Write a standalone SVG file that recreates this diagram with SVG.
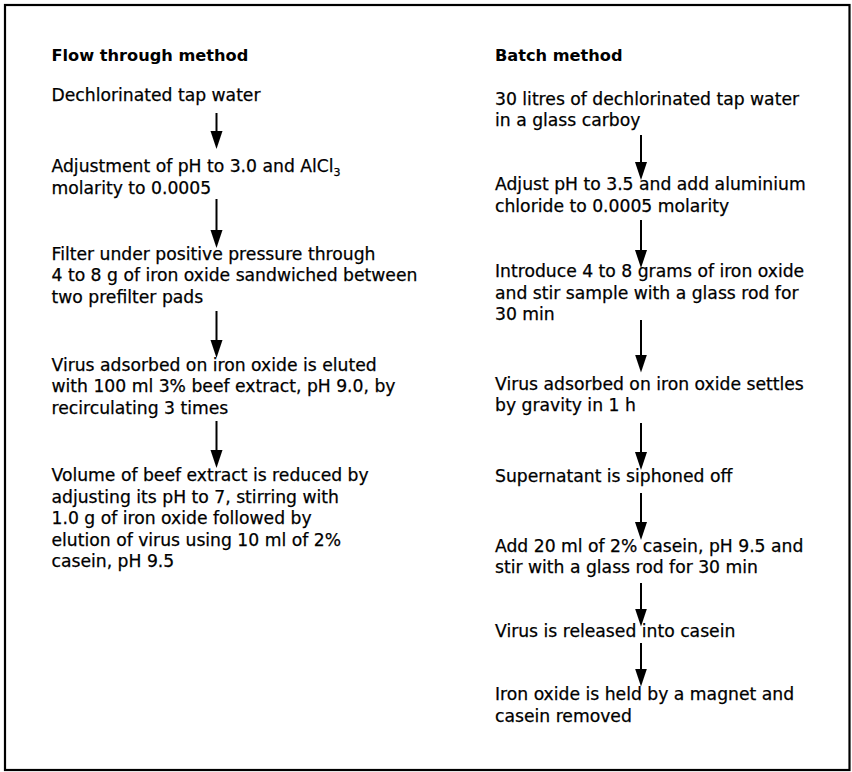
<svg xmlns="http://www.w3.org/2000/svg" width="852" height="772" viewBox="0 0 852 772">
<style>
.t{font-family:"DejaVu Sans","Liberation Sans",sans-serif;font-size:17.2px;fill:#000;stroke:#000;stroke-width:0.25}
.h{font-family:"DejaVu Sans","Liberation Sans",sans-serif;font-size:16.2px;font-weight:bold;fill:#000}
.c line{stroke:#000;stroke-width:2;marker-end:url(#ah)}
</style>
<defs>
<marker id="ah" markerUnits="userSpaceOnUse" markerWidth="20" markerHeight="14" refX="2" refY="6" orient="auto">
<path d="M0,0 L18,6 L0,12 z" fill="#000"/>
</marker>
</defs>
<rect x="5" y="5" width="844.5" height="765" fill="#fff" stroke="#000" stroke-width="2.2"/>
<g id="left-title"><text class="h" x="51.5" y="61">Flow through method</text></g>
<g id="f1"><text class="t" x="51.5" y="101">Dechlorinated tap water</text></g>
<g id="f2"><text class="t" x="51.5" y="172">Adjustment of pH to 3.0 and AlCl<tspan font-size="11" dy="4">3</tspan></text><text class="t" x="51.5" y="193.5">molarity to 0.0005</text></g>
<g id="f3"><text class="t" x="51.5" y="259.5">Filter under positive pressure through</text><text class="t" x="51.5" y="281">4 to 8 g of iron oxide sandwiched between</text><text class="t" x="51.5" y="302.5">two prefilter pads</text></g>
<g id="f4"><text class="t" x="51.5" y="370.5">Virus adsorbed on iron oxide is eluted</text><text class="t" x="51.5" y="392">with 100 ml 3% beef extract, pH 9.0, by</text><text class="t" x="51.5" y="413.5">recirculating 3 times</text></g>
<g id="f5"><text class="t" x="51.5" y="481">Volume of beef extract is reduced by</text><text class="t" x="51.5" y="502.5">adjusting its pH to 7, stirring with</text><text class="t" x="51.5" y="524">1.0 g of iron oxide followed by</text><text class="t" x="51.5" y="545.5">elution of virus using 10 ml of 2%</text><text class="t" x="51.5" y="567">casein, pH 9.5</text></g>
<g id="right-title"><text class="h" x="495" y="61">Batch method</text></g>
<g id="b1"><text class="t" x="495" y="104.5">30 litres of dechlorinated tap water</text><text class="t" x="495" y="126">in a glass carboy</text></g>
<g id="b2"><text class="t" x="495" y="190">Adjust pH to 3.5 and add aluminium</text><text class="t" x="495" y="211.5">chloride to 0.0005 molarity</text></g>
<g id="b3"><text class="t" x="495" y="277">Introduce 4 to 8 grams of iron oxide</text><text class="t" x="495" y="298.5">and stir sample with a glass rod for</text><text class="t" x="495" y="320">30 min</text></g>
<g id="b4"><text class="t" x="495" y="389.5">Virus adsorbed on iron oxide settles</text><text class="t" x="495" y="411">by gravity in 1 h</text></g>
<g id="b5"><text class="t" x="495" y="481.5">Supernatant is siphoned off</text></g>
<g id="b6"><text class="t" x="495" y="551.5">Add 20 ml of 2% casein, pH 9.5 and</text><text class="t" x="495" y="573">stir with a glass rod for 30 min</text></g>
<g id="b7"><text class="t" x="495" y="637">Virus is released into casein</text></g>
<g id="b8"><text class="t" x="495" y="700">Iron oxide is held by a magnet and</text><text class="t" x="495" y="721.5">casein removed</text></g>
<g id="connectors" class="c">
<line x1="216.5" y1="113" x2="216.5" y2="133"/>
<line x1="216.5" y1="199" x2="216.5" y2="232"/>
<line x1="216.5" y1="311" x2="216.5" y2="342"/>
<line x1="216.5" y1="421" x2="216.5" y2="452"/>
<line x1="641" y1="135" x2="641" y2="164"/>
<line x1="641" y1="220" x2="641" y2="252"/>
<line x1="641" y1="320" x2="641" y2="356.5"/>
<line x1="641" y1="423" x2="641" y2="454"/>
<line x1="641" y1="493" x2="641" y2="524"/>
<line x1="641" y1="583" x2="641" y2="610.5"/>
<line x1="641" y1="643" x2="641" y2="670.5"/>
</g>
</svg>
